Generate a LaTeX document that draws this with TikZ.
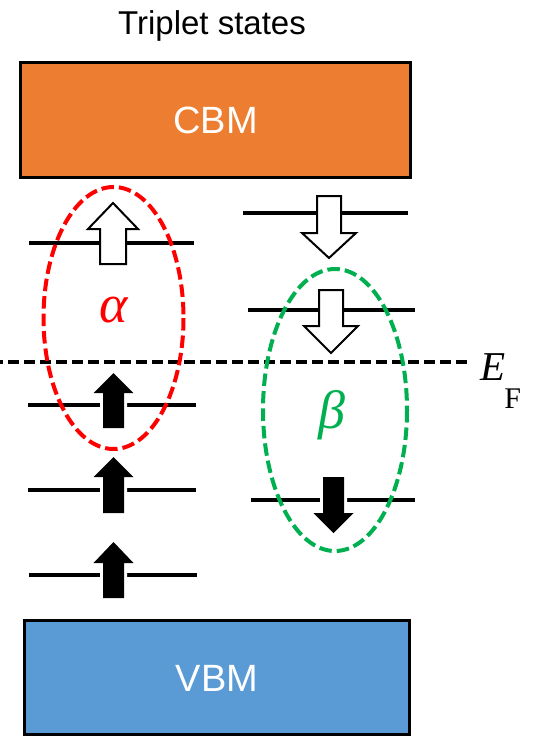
\documentclass[tikz,border=0pt]{standalone}
\usepackage{fontspec}
\setmainfont{Liberation Sans}
\newfontfamily\serifgr{Liberation Serif}
\definecolor{cbmorange}{HTML}{ED7D31}
\definecolor{vbmblue}{HTML}{5B9BD5}
\definecolor{betagreen}{HTML}{00B050}
\definecolor{alphared}{HTML}{FF0000}
\newcommand\uparrowshape[6]{% cx, tip, headbase, bottom, halfhead, halfshaft
  (#1,#2) -- (#1+#5,#3) -- (#1+#6,#3) -- (#1+#6,#4) -- (#1-#6,#4) -- (#1-#6,#3) -- (#1-#5,#3) -- cycle}
\tikzset{
  bandbox/.style={draw=black, line width=3pt, inner sep=0pt, text=white,
    font=\fontsize{38}{38}\selectfont, text height=27pt, text depth=0pt},
  levelline/.style={line width=4pt, line cap=butt},
  hollowspin/.style={draw=black, line width=2pt, fill=white, line join=miter},
  solidspin/.style={fill=black},
  spingap/.style={draw=white, line width=6pt},
  groupring/.style={line width=4pt, dash pattern=on 12.5pt off 5pt},
  fermiline/.style={line width=3.5pt, dash pattern=on 11pt off 5pt, dash phase=8pt},
}
\begin{document}
\begin{tikzpicture}[x=1pt,y=-1pt]
\useasboundingbox (0,0) rectangle (540,741);
\fill[white] (0,0) rectangle (540,741);

\node[anchor=base, font=\fontsize{33}{33}\selectfont] (title) at (212,35) {Triplet states};

\node[bandbox, fill=cbmorange, minimum width=390pt, minimum height=115pt] (cbm) at (215.5,120) {CBM};
\node[bandbox, fill=vbmblue, minimum width=385pt, minimum height=114pt] (vbm) at (217,677.5) {VBM};

% energy levels (left)
\coordinate (l1a) at (29,243); \coordinate (l1b) at (194,243);
\coordinate (l2a) at (28,405); \coordinate (l2b) at (196,405);
\coordinate (l3a) at (28,490); \coordinate (l3b) at (196,490);
\coordinate (l4a) at (29,575); \coordinate (l4b) at (197,575);
% energy levels (right)
\coordinate (r1a) at (243,213); \coordinate (r1b) at (408,213);
\coordinate (r2a) at (248,310); \coordinate (r2b) at (415,310);
\coordinate (r3a) at (251,500); \coordinate (r3b) at (415,500);
\foreach \p in {l1,l2,l3,l4,r1,r2,r3}
  \draw[levelline] (\p a) -- (\p b);

% spins
\draw[hollowspin] \uparrowshape{113}{203}{229}{264}{25}{13};
\foreach \t/\b/\e in {373/393/428, 457/477/513, 542/563/598}{
  \draw[spingap] \uparrowshape{113.5}{\t}{\b}{\e}{20}{10.5};
  \fill[solidspin] \uparrowshape{113.5}{\t}{\b}{\e}{20}{10.5};
}
\draw[hollowspin] \uparrowshape{329}{258}{233}{196}{27}{12};
\draw[hollowspin] \uparrowshape{331}{353}{326}{290}{27}{12};
\draw[spingap] \uparrowshape{333.5}{533}{513}{477}{20}{10.5};
\fill[solidspin] \uparrowshape{333.5}{533}{513}{477}{20}{10.5};

% Fermi level
\coordinate (efa) at (0,362);
\coordinate (efb) at (472,362);
\draw[fermiline] (efa) -- (efb);
\node[anchor=base west, inner sep=0pt] (ef) at (480,380)
  {\serifgr\fontsize{41}{41}\selectfont\itshape E\kern-1pt\upshape\raisebox{-28pt}{\fontsize{30}{30}\selectfont F}};

% groupings
\draw[groupring, alphared] (113.5,318) ellipse [x radius=70, y radius=131];
\draw[groupring, betagreen] (335,410) ellipse [x radius=72, y radius=141];
\node[anchor=base, text=alphared, inner sep=0pt] (alpha) at (113.5,322)
  {\serifgr\fontsize{54}{54}\selectfont\itshape α};
\node[anchor=base, text=betagreen, inner sep=0pt] (beta) at (332,428)
  {\serifgr\fontsize{54}{54}\selectfont\itshape β};
\end{tikzpicture}
\end{document}
